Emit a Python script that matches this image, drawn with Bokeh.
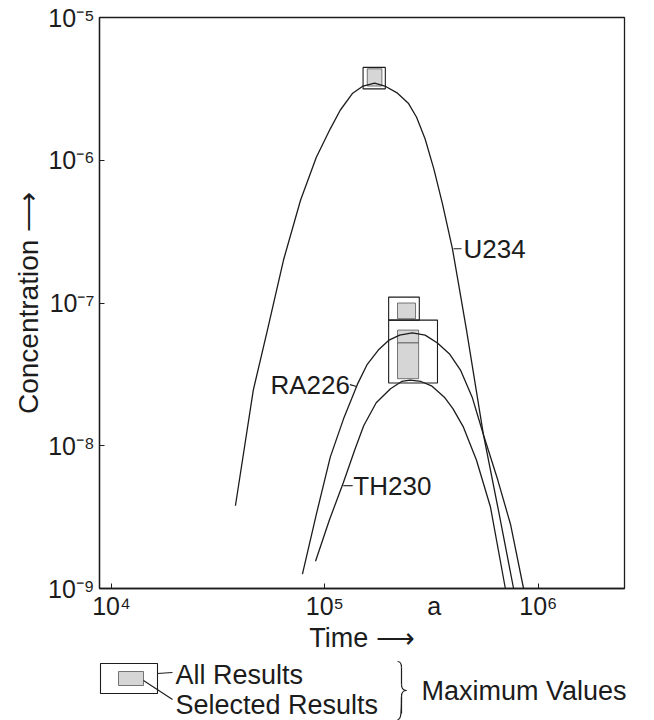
import numpy as np
from bokeh.plotting import figure
from bokeh.layouts import column
from bokeh.models import FixedTicker, Label, Range1d, LogAxis
from bokeh.core.properties import value
from bokeh.embed import file_html
from bokeh.resources import INLINE

# ---------------- data ----------------
u234_time = [3.81e4, 4.62e4, 5.38e4, 6.40e4, 7.69e4, 9.12e4, 1.06e5, 1.18e5, 1.35e5, 1.51e5,
             1.71e5, 1.91e5, 2.19e5, 2.46e5, 2.69e5, 2.95e5, 3.24e5, 3.55e5, 3.96e5, 4.28e5,
             4.61e5, 5.53e5, 6.50e5, 7.66e5]
u234_conc = [3.80e-9, 2.45e-8, 6.46e-8, 2.00e-7, 5.25e-7, 1.05e-6, 1.66e-6, 2.24e-6, 2.95e-6, 3.31e-6,
             3.47e-6, 3.31e-6, 2.95e-6, 2.51e-6, 2.00e-6, 1.41e-6, 8.71e-7, 5.01e-7, 2.40e-7, 1.23e-7,
             6.46e-8, 1.20e-8, 3.55e-9, 1.0e-9]

ra226_time = [7.85e4, 9.12e4, 1.06e5, 1.23e5, 1.42e5, 1.58e5, 1.78e5, 2.00e5, 2.24e5, 2.57e5,
              2.95e5, 3.37e5, 3.85e5, 4.32e5, 4.90e5, 5.53e5, 6.46e5, 7.41e5, 8.53e5]
ra226_conc = [1.26e-9, 3.31e-9, 8.32e-9, 1.58e-8, 2.69e-8, 3.72e-8, 4.68e-8, 5.50e-8, 5.96e-8, 6.17e-8,
              5.96e-8, 5.25e-8, 4.37e-8, 3.39e-8, 2.19e-8, 1.20e-8, 5.75e-9, 2.82e-9, 1.0e-9]

th230_time = [9.04e4, 1.05e5, 1.22e5, 1.38e5, 1.52e5, 1.74e5, 2.03e5, 2.29e5, 2.51e5, 2.82e5,
              3.16e5, 3.63e5, 3.98e5, 4.46e5, 5.13e5, 5.97e5, 7.01e5]
th230_conc = [1.55e-9, 3.02e-9, 5.50e-9, 9.33e-9, 1.38e-8, 2.00e-8, 2.51e-8, 2.82e-8, 2.88e-8, 2.82e-8,
              2.63e-8, 2.19e-8, 1.82e-8, 1.35e-8, 7.94e-9, 3.72e-9, 1.0e-9]

# maximum-value boxes: "All Results" (outline) and "Selected Results" (shaded)
all_left = [1.51e5, 1.99e5, 1.99e5]
all_right = [1.92e5, 2.77e5, 3.37e5]
all_bottom = [3.16e-6, 7.59e-8, 2.75e-8]
all_top = [4.47e-6, 1.10e-7, 7.59e-8]

sel_left = [1.58e5, 2.19e5, 2.19e5, 2.19e5]
sel_right = [1.85e5, 2.66e5, 2.75e5, 2.75e5]
sel_bottom = [3.31e-6, 7.76e-8, 5.25e-8, 2.95e-8]
sel_top = [4.37e-6, 1.00e-7, 6.46e-8, 5.25e-8]

x_ticks = [1e4, 1e5, 1e6]
x_label_pos = [1e4, 1e5, 3.25e5, 1e6]
x_label_text = ["10\u2074", "10\u2075", "a", "10\u2076"]
y_ticks = [1e-9, 1e-8, 1e-7, 1e-6, 1e-5]
y_tick_labels = ["10\u207b\u2079", "10\u207b\u2078", "10\u207b\u2077", "10\u207b\u2076", "10\u207b\u2075"]

# ---------------- main figure ----------------
FONT = "Liberation Sans"
INK = "#1c1c1c"

p = figure(width=654, height=656, x_axis_type="log", y_axis_type="log",
           x_range=Range1d(8790, 2.535e6), y_range=Range1d(1e-9, 1e-5),
           output_backend="svg", toolbar_location=None, title=None,
           min_border_left=99, min_border_right=30, min_border_top=17, min_border_bottom=68)
p.frame_align = False
p.background_fill_color = "white"
p.border_fill_color = "white"
p.outline_line_color = INK
p.outline_line_width = 1.3
p.xgrid.grid_line_color = None
p.ygrid.grid_line_color = None

# inner x axis: line + inward ticks only
xa_in = LogAxis(ticker=FixedTicker(ticks=x_ticks), axis_line_color=INK, axis_line_width=1.3,
                major_tick_line_color=INK, major_tick_in=5, major_tick_out=0,
                minor_tick_line_color=None, major_label_text_font_size="0px",
                major_label_overrides={t: "" for t in x_ticks}, major_label_standoff=0)
# outer x axis: tick labels (with the unit "a") and title
xa_out = LogAxis(ticker=FixedTicker(ticks=x_label_pos), axis_line_color=None,
                 major_tick_line_color=None, minor_tick_line_color=None,
                 major_tick_in=0, major_tick_out=0,
                 major_label_overrides={t: s for t, s in zip(x_label_pos, x_label_text)},
                 major_label_text_font=FONT, major_label_text_font_size="25px",
                 major_label_text_color=INK, major_label_standoff=3,
                 axis_label="Time \u27f6", axis_label_text_font=FONT,
                 axis_label_text_font_size="27px", axis_label_text_font_style="normal",
                 axis_label_text_color=INK, axis_label_standoff=0)
p.below = [xa_in, xa_out]

ya = p.yaxis[0]
ya.ticker = FixedTicker(ticks=y_ticks)
ya.major_label_overrides = {t: s for t, s in zip(y_ticks, y_tick_labels)}
ya.axis_line_color = INK
ya.axis_line_width = 1.3
ya.major_tick_line_color = INK
ya.major_tick_in = 5
ya.major_tick_out = 0
ya.minor_tick_line_color = None
ya.major_label_text_font = FONT
ya.major_label_text_font_size = "25px"
ya.major_label_text_color = INK
ya.major_label_standoff = 5
ya.axis_label = "Concentration \u27f6"
ya.axis_label_text_font = FONT
ya.axis_label_text_font_size = "28px"
ya.axis_label_text_font_style = "normal"
ya.axis_label_text_color = INK
ya.axis_label_standoff = 1

# boxes
p.quad(left=sel_left, right=sel_right, bottom=sel_bottom, top=sel_top,
       fill_color="#d6d6d6", line_color="#555555", line_width=0.8)
p.quad(left=all_left, right=all_right, bottom=all_bottom, top=all_top,
       fill_color=None, line_color=INK, line_width=1.1)

# curves
for t, c in ((u234_time, u234_conc), (ra226_time, ra226_conc), (th230_time, th230_conc)):
    p.line(t, c, line_color=INK, line_width=1.3)

# curve labels with leader ticks
p.segment(x0=[4.01e5, 1.31e5, 1.22e5], y0=[2.40e-7, 2.68e-8, 5.25e-9],
          x1=[4.37e5, 1.41e5, 1.35e5], y1=[2.40e-7, 2.60e-8, 5.25e-9],
          line_color=INK, line_width=1.1)
for x, y, txt, al in ((4.46e5, 2.40e-7, "U234", "left"),
                      (1.31e5, 2.68e-8, "RA226", "right"),
                      (1.36e5, 5.25e-9, "TH230", "left")):
    p.add_layout(Label(x=x, y=y, text=txt, text_align=al, text_baseline="middle",
                       text_font=FONT, text_font_size="26px", text_color=INK))

# ---------------- key below the plot (pixel coordinates of the page) ----------------
key_box_left = [100, 118]
key_box_right = [157, 143]
key_box_top = [663, 671]
key_box_bottom = [693, 685]
key_box_fill = ["white", "#d6d6d6"]
key_box_line = [INK, "#555555"]

k = figure(width=654, height=64, x_range=Range1d(0, 654), y_range=Range1d(720, 656),
           output_backend="svg", toolbar_location=None, title=None,
           x_axis_type=None, y_axis_type=None,
           min_border_left=0, min_border_right=0, min_border_top=0, min_border_bottom=0)
k.frame_align = False
k.outline_line_color = None
k.background_fill_color = "white"
k.border_fill_color = "white"
k.xgrid.grid_line_color = None
k.ygrid.grid_line_color = None
k.quad(left=key_box_left, right=key_box_right, top=key_box_top, bottom=key_box_bottom,
       fill_color=key_box_fill, line_color=key_box_line, line_width=[1.1, 0.8])
k.segment(x0=[157, 143], y0=[673, 680], x1=[172, 172], y1=[672, 699], line_color=INK, line_width=1.1)
k.text(x=[175, 175, 421], y=[674, 704, 690], text=["All Results", "Selected Results", "Maximum Values"],
       text_align="left", text_baseline="middle", text_font=value(FONT), text_font_size="27px",
       text_color=INK)
# brace "}"
k.bezier(x0=[397, 401, 406, 401], y0=[661, 684, 690, 696],
         x1=[401, 406, 401, 397], y1=[667, 690, 696, 719],
         cx0=[400, 401, 403, 401], cy0=[661, 688, 690, 716],
         cx1=[401, 403, 401, 400], cy1=[663, 690, 692, 719],
         line_color=INK, line_width=1.2)
k.segment(x0=[401, 401], y0=[667, 696], x1=[401, 401], y1=[684, 713], line_color=INK, line_width=1.2)

layout = column(p, k, spacing=0)
open("out.html", "w").write(file_html(layout, INLINE))
